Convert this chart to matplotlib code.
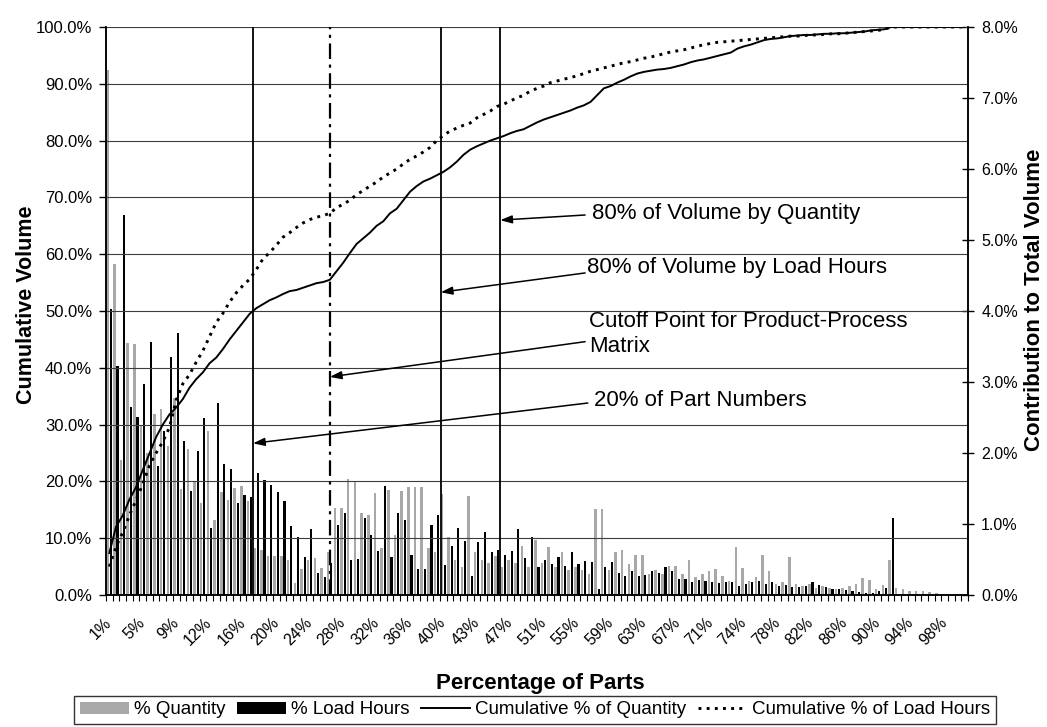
import numpy as np
import matplotlib
matplotlib.use("Agg")
import matplotlib.pyplot as plt
from matplotlib.patches import Patch
from matplotlib.lines import Line2D

plt.rcParams['font.family'] = ['Liberation Sans', 'DejaVu Sans']

# ---------------- data ----------------
tick_labels = ['1%', '5%', '9%', '12%', '16%', '20%', '24%', '28%', '32%', '36%',
               '40%', '43%', '47%', '51%', '55%', '59%', '63%', '67%', '71%', '74%',
               '78%', '82%', '86%', '90%', '94%', '98%']
label_every = 5

# % Quantity (right axis, % of total volume) per part-number category
pct_quantity = [
    7.39, 4.66, 1.90, 3.55, 3.54, 2.40, 2.00, 2.55, 2.62, 2.10,
    2.78, 1.50, 2.05, 1.60, 1.30, 2.31, 1.06, 1.45, 1.34, 1.51,
    1.53, 1.32, 0.66, 0.64, 0.55, 0.55, 0.55, 0.50, 0.17, 0.36,
    0.50, 0.52, 0.38, 0.60, 1.23, 1.23, 1.63, 1.61, 1.16, 1.13,
    1.44, 0.66, 1.48, 0.85, 1.46, 1.52, 1.52, 1.52, 0.66, 0.61,
    1.42, 0.81, 0.50, 0.40, 1.40, 0.60, 0.50, 0.45, 0.55, 0.40,
    0.50, 0.45, 0.69, 0.40, 0.78, 0.45, 0.67, 0.40, 0.60, 0.35,
    0.40, 0.35, 0.30, 1.21, 1.21, 0.35, 0.60, 0.64, 0.43, 0.56,
    0.56, 0.30, 0.35, 0.30, 0.41, 0.41, 0.30, 0.49, 0.25, 0.29,
    0.34, 0.36, 0.27, 0.20, 0.68, 0.38, 0.20, 0.25, 0.57, 0.34,
    0.15, 0.18, 0.54, 0.15, 0.12, 0.15, 0.10, 0.12, 0.10, 0.08,
    0.10, 0.12, 0.15, 0.24, 0.21, 0.08, 0.14, 0.49, 0.10, 0.08,
    0.06, 0.05, 0.05, 0.04, 0.03, 0.02, 0.00, 0.00, 0.00]

# % Load Hours (right axis)
pct_load_hours = [
    4.03, 3.22, 5.35, 2.65, 2.51, 2.97, 3.57, 1.81, 2.31, 3.35,
    3.69, 2.17, 1.47, 2.03, 2.50, 0.95, 2.70, 1.85, 1.77, 1.30,
    1.41, 1.38, 1.72, 1.62, 1.55, 1.45, 1.33, 0.97, 0.82, 0.54,
    0.93, 0.31, 0.25, 0.45, 0.99, 1.16, 0.50, 0.51, 1.08, 0.85,
    0.62, 1.53, 0.54, 1.16, 1.05, 0.56, 0.37, 0.37, 0.99, 1.13,
    0.42, 0.69, 0.94, 0.76, 0.27, 0.75, 0.89, 0.61, 0.64, 0.57,
    0.62, 0.93, 0.52, 0.81, 0.40, 0.50, 0.43, 0.53, 0.41, 0.60,
    0.44, 0.48, 0.46, 0.08, 0.40, 0.46, 0.31, 0.27, 0.34, 0.27,
    0.28, 0.34, 0.31, 0.39, 0.34, 0.22, 0.22, 0.19, 0.21, 0.20,
    0.19, 0.17, 0.19, 0.18, 0.12, 0.15, 0.18, 0.20, 0.16, 0.18,
    0.12, 0.14, 0.11, 0.11, 0.13, 0.18, 0.14, 0.11, 0.08, 0.09,
    0.07, 0.05, 0.04, 0.03, 0.03, 0.05, 0.10, 1.08, 0.00, 0.00,
    0.00, 0.00, 0.00, 0.00, 0.00, 0.00, 0.00, 0.00, 0.00]

# Cumulative % of Quantity (left axis)
cum_quantity = [
    7.4, 12.0, 14.0, 16.8, 19.0, 22.0, 24.9, 27.8, 30.0, 31.8,
    33.0, 34.5, 36.5, 38.0, 39.2, 40.8, 41.8, 43.3, 45.0, 46.5,
    48.0, 49.5, 50.5, 51.2, 51.9, 52.4, 53.0, 53.5, 53.7, 54.1,
    54.5, 54.9, 55.1, 55.5, 57.0, 58.5, 60.2, 61.8, 62.8, 63.8,
    65.0, 65.8, 67.2, 68.0, 69.5, 71.0, 72.0, 72.8, 73.3, 73.9,
    74.5, 75.3, 76.3, 77.5, 78.4, 79.0, 79.5, 80.0, 80.4, 80.8,
    81.3, 81.7, 82.0, 82.6, 83.2, 83.7, 84.1, 84.5, 84.9, 85.3,
    85.8, 86.2, 86.8, 88.0, 89.2, 89.6, 90.2, 90.7, 91.3, 91.8,
    92.1, 92.3, 92.5, 92.6, 92.8, 93.1, 93.4, 93.8, 94.1, 94.3,
    94.6, 94.9, 95.2, 95.5, 96.2, 96.6, 96.9, 97.3, 97.7, 97.9,
    98.0, 98.2, 98.4, 98.5, 98.6, 98.6, 98.7, 98.8, 98.8, 98.9,
    98.9, 99.0, 99.1, 99.2, 99.4, 99.5, 99.6, 100.0, 100.0, 100.0,
    100.0, 100.0, 100.0, 100.0, 100.0, 100.0, 100.0, 100.0, 100.0]

# Cumulative % of Load Hours (left axis)
cum_load_hours = [
    5.0, 8.5, 11.0, 14.0, 16.7, 19.5, 22.8, 25.0, 27.0, 29.5,
    34.3, 37.2, 38.8, 41.0, 43.0, 45.5, 48.0, 49.6, 51.6, 53.2,
    54.5, 55.6, 57.3, 59.2, 60.3, 61.6, 63.0, 63.8, 64.7, 65.5,
    66.1, 66.5, 66.8, 67.2, 68.2, 68.8, 69.5, 70.5, 71.2, 72.0,
    72.7, 73.6, 74.3, 75.0, 75.9, 76.7, 77.3, 78.0, 78.8, 80.0,
    80.9, 81.7, 82.2, 82.7, 83.1, 84.0, 84.6, 85.2, 86.0, 86.4,
    87.0, 87.5, 88.0, 88.7, 89.2, 89.6, 90.2, 90.5, 90.8, 91.1,
    91.4, 91.8, 92.2, 92.5, 92.8, 93.1, 93.4, 93.7, 93.9, 94.2,
    94.5, 94.7, 95.0, 95.3, 95.6, 95.8, 96.0, 96.3, 96.6, 96.9,
    97.1, 97.3, 97.4, 97.5, 97.6, 97.7, 97.8, 97.9, 98.0, 98.1,
    98.2, 98.3, 98.4, 98.4, 98.5, 98.6, 98.6, 98.7, 98.8, 98.8,
    98.9, 99.0, 99.1, 99.2, 99.3, 99.4, 99.6, 100.0, 100.0, 100.0,
    100.0, 100.0, 100.0, 100.0, 100.0, 100.0, 100.0, 100.0, 100.0]

# reference markers (category position, 0-based)
part20_pos = 21.5       # 20% of Part Numbers
cutoff_pos = 33.0       # Cutoff point for product-process matrix
load80_pos = 49.6       # 80% of volume by load hours
qty80_pos = 58.5        # 80% of volume by quantity

# ---------------- figure ----------------
W, H = 1047, 727
L, R, T, B = 106, 968, 27, 595
fig = plt.figure(figsize=(W / 100, H / 100), dpi=100)
ax_bar = fig.add_axes([L / W, 1 - B / H, (R - L) / W, (B - T) / H])
ax_cum = ax_bar.twinx()

n = len(pct_quantity)
x = np.arange(n)

ax_bar.bar(x - 0.25, pct_quantity, width=0.38, color='#a8a8a8', linewidth=0)
ax_bar.bar(x + 0.22, pct_load_hours, width=0.32, color='black', linewidth=0)
ax_bar.set_xlim(-0.5, n - 0.5)
ax_bar.set_ylim(0, 8)

ax_cum.set_ylim(0, 100)
ax_cum.plot(x, cum_quantity, color='black', lw=1.4, zorder=4)
ax_cum.plot(x, cum_load_hours, color='black', lw=2.1, linestyle=(0, (1, 1.8)),
            dash_capstyle='butt', zorder=4)

# axes / ticks
ax_bar.yaxis.tick_right()
ax_cum.yaxis.tick_left()
ax_bar.set_yticks(np.arange(0, 9, 1))
ax_bar.set_yticklabels([f'{v:.1f}%' for v in np.arange(0, 9, 1)], fontsize=11.5)
ax_bar.tick_params(axis='y', which='major', direction='inout', length=9, width=1, pad=5)
ax_cum.set_yticks(np.arange(0, 101, 10))
ax_cum.set_yticklabels([f'{v:.1f}%' for v in np.arange(0, 101, 10)], fontsize=12)
ax_cum.tick_params(axis='y', which='major', direction='out', length=5, width=1, pad=5)
ax_cum.grid(axis='y', color='#3c3c3c', lw=0.8)

ax_bar.set_xticks(x[::label_every])
ax_bar.set_xticklabels(tick_labels, rotation=45, ha='right', va='center',
                       rotation_mode='anchor', fontsize=11.5)
ax_bar.tick_params(axis='x', which='major', length=0, pad=18)
ax_bar.set_xticks(np.arange(n + 1) - 0.5, minor=True)
ax_bar.tick_params(axis='x', which='minor', direction='out', length=4, width=0.8)

for a in (ax_bar, ax_cum):
    a.spines['top'].set_visible(False)
    for s in ('left', 'right', 'bottom'):
        a.spines[s].set_linewidth(1.1)
        a.spines[s].set_color('black')

# reference lines
for pos in (part20_pos, load80_pos, qty80_pos):
    ax_cum.axvline(pos, color='black', lw=1.3, zorder=3)
ax_cum.axvline(cutoff_pos, color='black', lw=1.6, linestyle=(0, (7, 2.5, 1.4, 2.5)), zorder=3)

arrow = dict(arrowstyle='-|>,head_length=0.35,head_width=0.12', color='black',
             lw=1.1, mutation_scale=20, shrinkA=0, shrinkB=0)
fs_ann = 16
ax_cum.annotate('', xy=(qty80_pos, 66.0), xytext=(71.2, 66.9), arrowprops=arrow)
ax_cum.text(72.2, 67.1, '80% of Volume by Quantity', ha='left', va='center', fontsize=fs_ann)
ax_cum.annotate('', xy=(load80_pos, 53.3), xytext=(71.2, 56.7), arrowprops=arrow)
ax_cum.text(71.5, 57.6, '80% of Volume by Load Hours', ha='left', va='center', fontsize=fs_ann)
ax_cum.annotate('', xy=(cutoff_pos, 38.4), xytext=(71.2, 44.6), arrowprops=arrow)
ax_cum.text(71.8, 45.95, 'Cutoff Point for Product-Process\nMatrix', ha='left', va='center',
            fontsize=fs_ann, linespacing=1.3)
ax_cum.annotate('', xy=(part20_pos, 26.7), xytext=(71.6, 33.8), arrowprops=arrow)
ax_cum.text(72.5, 34.3, '20% of Part Numbers', ha='left', va='center', fontsize=fs_ann)

# axis titles
fig.text(27 / W, 1 - 305 / H, 'Cumulative Volume', rotation=90, ha='center', va='center',
         fontsize=15.5, fontweight='bold')
fig.text(1035 / W, 1 - 300 / H, 'Contribution to Total Volume', rotation=90, ha='center',
         va='center', fontsize=16, fontweight='bold')
fig.text(540 / W, 1 - 683 / H, 'Percentage of Parts', ha='center', va='center',
         fontsize=16, fontweight='bold')

# legend
handles = [Patch(facecolor='#a8a8a8', edgecolor='none'),
           Patch(facecolor='black', edgecolor='none'),
           Line2D([], [], color='black', lw=1.4),
           Line2D([], [], color='black', lw=2.1, linestyle=(0, (1, 1.8)))]
labels = ['% Quantity', '% Load Hours', 'Cumulative % of Quantity', 'Cumulative % of Load Hours']
leg = fig.legend(handles, labels, loc='center', bbox_to_anchor=(535 / W, 1 - 710 / H),
                 ncol=4, frameon=True, fancybox=False, edgecolor='black', fontsize=13.5,
                 handlelength=2.6, handleheight=0.6, handletextpad=0.3, columnspacing=0.6,
                 borderpad=0.3, borderaxespad=0)
leg.get_frame().set_linewidth(1.0)

fig.savefig('out.png', dpi=100)
